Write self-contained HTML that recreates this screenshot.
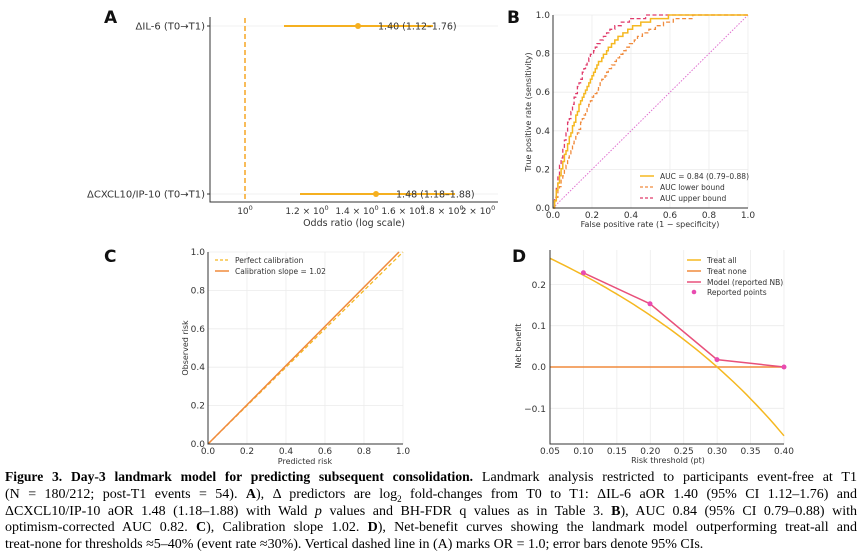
<!DOCTYPE html>
<html><head><meta charset="utf-8"><style>
body{margin:0;background:#fff;width:862px;height:560px;overflow:hidden;position:relative}
svg{position:absolute;left:0;top:0}
.cap{position:absolute;left:5px;top:469px;width:852px;font-family:"Liberation Serif",serif;font-size:14px;line-height:16.8px;color:#000}
.cap div{white-space:nowrap;text-align:justify;text-align-last:justify;overflow:hidden}
.cap div.l{text-align-last:left}
.cap b.tt{font-size:13.6px}
text{font-family:"DejaVu Sans","Liberation Sans",sans-serif;fill:#333}
.t{font-size:9px}
.g{stroke:#ececec;stroke-width:0.8}
.ax{stroke:#333;stroke-width:1;fill:none}
</style></head><body>
<svg width="862" height="560" id="s">
<text x="104" y="23" style="font-size:17px;font-weight:bold;fill:#111">A</text>
<line class="g" x1="210" y1="26" x2="498" y2="26"/>
<line class="g" x1="210" y1="194" x2="498" y2="194"/>
<line x1="245" y1="18" x2="245" y2="202" stroke="#f5a623" stroke-width="1.5" stroke-dasharray="5,3"/>
<line x1="284" y1="26" x2="433" y2="26" stroke="#f5b020" stroke-width="2"/>
<circle cx="358" cy="26" r="3" fill="#f5b020"/>
<text x="378" y="29.5" class="t" style="font-size:9.5px">1.40 (1.12–1.76)</text>
<line x1="300" y1="194" x2="455" y2="194" stroke="#f5b020" stroke-width="2"/>
<circle cx="376" cy="194" r="3" fill="#f5b020"/>
<text x="396" y="197.5" class="t" style="font-size:9.5px">1.48 (1.18–1.88)</text>
<path class="ax" d="M210 17 V202 H498"/>
<line x1="207" y1="26" x2="210" y2="26" stroke="#333"/><line x1="207" y1="194" x2="210" y2="194" stroke="#333"/>
<text x="205" y="29.5" text-anchor="end" style="font-size:10px">ΔIL-6 (T0→T1)</text>
<text x="205" y="197.5" text-anchor="end" style="font-size:10px">ΔCXCL10/IP-10 (T0→T1)</text>
<g class="t" text-anchor="middle">
<text x="245" y="214">10<tspan dy="-4" style="font-size:6.5px">0</tspan></text>
<text x="307" y="214">1.2 × 10<tspan dy="-4" style="font-size:6.5px">0</tspan></text>
<text x="357" y="214">1.4 × 10<tspan dy="-4" style="font-size:6.5px">0</tspan></text>
<text x="403" y="214">1.6 × 10<tspan dy="-4" style="font-size:6.5px">0</tspan></text>
<text x="442" y="214">1.8 × 10<tspan dy="-4" style="font-size:6.5px">0</tspan></text>
<text x="478" y="214">2 × 10<tspan dy="-4" style="font-size:6.5px">0</tspan></text>
</g>
<text x="354" y="226" text-anchor="middle" style="font-size:9.5px">Odds ratio (log scale)</text>

<text x="507" y="23" style="font-size:17px;font-weight:bold;fill:#111">B</text>
<g id="bgrid"></g>
<line x1="553" y1="208" x2="748" y2="15" stroke="#e070d0" stroke-width="1" stroke-dasharray="1.5,1.5"/>
<path id="rocL" fill="none" stroke="#f08a3c" stroke-width="1.3" stroke-dasharray="4,2.5"/>
<path id="rocU" fill="none" stroke="#e03a6a" stroke-width="1.3" stroke-dasharray="4,2.5"/>
<path id="rocM" fill="none" stroke="#f5b820" stroke-width="1.5"/>
<path class="ax" d="M553 15 V208 H748"/>
<g class="t" text-anchor="end" id="byt"></g>
<g class="t" text-anchor="middle" id="bxt"></g>
<text transform="translate(531,112) rotate(-90)" text-anchor="middle" style="font-size:8px">True positive rate (sensitivity)</text>
<text x="650" y="227" text-anchor="middle" style="font-size:8px">False positive rate (1 − specificity)</text>
<line x1="640" y1="176" x2="654" y2="176" stroke="#f5b820" stroke-width="1.5"/>
<text x="660" y="179" style="font-size:7.5px">AUC = 0.84 (0.79–0.88)</text>
<line x1="640" y1="187" x2="654" y2="187" stroke="#f08a3c" stroke-width="1.3" stroke-dasharray="3,2"/>
<text x="660" y="190" style="font-size:7.5px">AUC lower bound</text>
<line x1="640" y1="198" x2="654" y2="198" stroke="#e03a6a" stroke-width="1.3" stroke-dasharray="3,2"/>
<text x="660" y="201" style="font-size:7.5px">AUC upper bound</text>

<text x="104" y="262" style="font-size:17px;font-weight:bold;fill:#111">C</text>
<g id="cgrid"></g>
<line x1="208" y1="444" x2="403" y2="252" stroke="#f5b820" stroke-width="1.3" stroke-dasharray="4,2.5"/>
<line x1="208" y1="444" x2="399" y2="252" stroke="#f08a3c" stroke-width="1.5"/>
<path class="ax" d="M208 252 V444 H403"/>
<g class="t" text-anchor="end" id="cyt"></g>
<g class="t" text-anchor="middle" id="cxt"></g>
<text transform="translate(188,348) rotate(-90)" text-anchor="middle" style="font-size:8px">Observed risk</text>
<text x="305" y="464" text-anchor="middle" style="font-size:8px">Predicted risk</text>
<line x1="215" y1="260" x2="229" y2="260" stroke="#f5b820" stroke-width="1.3" stroke-dasharray="3,2"/>
<text x="235" y="263" style="font-size:7.5px">Perfect calibration</text>
<line x1="215" y1="271" x2="229" y2="271" stroke="#f08a3c" stroke-width="1.5"/>
<text x="235" y="274" style="font-size:7.5px">Calibration slope = 1.02</text>

<text x="512" y="262" style="font-size:17px;font-weight:bold;fill:#111">D</text>
<g id="dgrid"></g>
<line x1="550" y1="367" x2="784" y2="367" stroke="#f08a3c" stroke-width="1.5"/>
<path id="tall" fill="none" stroke="#f5b820" stroke-width="1.5"/>
<polyline points="583.4,272.8 650,303.8 717,359.6 784,367" fill="none" stroke="#e8507a" stroke-width="1.5"/>
<g fill="#e84bb0"><circle cx="583.4" cy="272.8" r="2.5"/><circle cx="650" cy="303.8" r="2.5"/><circle cx="717" cy="359.6" r="2.5"/><circle cx="784" cy="367" r="2.5"/></g>
<path class="ax" d="M550 250 V444 H784"/>
<g class="t" text-anchor="end">
<text x="546" y="288">0.2</text><text x="546" y="329">0.1</text><text x="546" y="370">0.0</text><text x="546" y="412">−0.1</text>
</g>
<g class="t" text-anchor="middle" id="dxt"></g>
<text transform="translate(521,346) rotate(-90)" text-anchor="middle" style="font-size:8px">Net benefit</text>
<text x="668" y="463" text-anchor="middle" style="font-size:8px">Risk threshold (pt)</text>
<line x1="687" y1="260" x2="701" y2="260" stroke="#f5b820" stroke-width="1.5"/><text x="707" y="263" style="font-size:7.5px">Treat all</text>
<line x1="687" y1="271" x2="701" y2="271" stroke="#f08a3c" stroke-width="1.5"/><text x="707" y="274" style="font-size:7.5px">Treat none</text>
<line x1="687" y1="282" x2="701" y2="282" stroke="#e8507a" stroke-width="1.5"/><text x="707" y="285" style="font-size:7.5px">Model (reported NB)</text>
<circle cx="694" cy="292" r="2.3" fill="#e84bb0"/><text x="707" y="295" style="font-size:7.5px">Reported points</text>
</svg>
<div class="cap">
<div><b class="tt">Figure 3. Day-3 landmark model for predicting subsequent consolidation.</b> Landmark analysis restricted to participants event-free at T1</div>
<div>(N = 180/212; post-T1 events = 54). <b>A</b>), Δ predictors are log<sub style="font-size:9px;line-height:0">2</sub> fold-changes from T0 to T1: ΔIL-6 aOR 1.40 (95% CI 1.12–1.76) and</div>
<div>ΔCXCL10/IP-10 aOR 1.48 (1.18–1.88) with Wald <i>p</i> values and BH-FDR q values as in Table 3. <b>B</b>), AUC 0.84 (95% CI 0.79–0.88) with</div>
<div>optimism-corrected AUC 0.82. <b>C</b>), Calibration slope 1.02. <b>D</b>), Net-benefit curves showing the landmark model outperforming treat-all and</div>
<div class="l">treat-none for thresholds ≈5–40% (event rate ≈30%). Vertical dashed line in (A) marks OR = 1.0; error bars denote 95% CIs.</div>
</div>
<script>
var NS="http://www.w3.org/2000/svg";
function el(p,t,a,txt){var e=document.createElementNS(NS,t);for(var k in a)e.setAttribute(k,a[k]);if(txt!==undefined)e.textContent=txt;document.getElementById(p).appendChild(e);}
for(var i=0;i<=5;i++){var v=i/5,x=553+195*v,y=208-193*v;
el("bgrid","line",{x1:x,y1:15,x2:x,y2:208,class:"g"});el("bgrid","line",{x1:553,y1:y,x2:748,y2:y,class:"g"});
el("byt","text",{x:550,y:y+3},v.toFixed(1));el("bxt","text",{x:x,y:218},v.toFixed(1));}
function roc(k,id){var d="";var prev=208;for(var i=0;i<=120;i++){var f=i/120,t=1-Math.pow(1-f,k);t=Math.round(t*54)/54;var x=553+195*f,y=208-193*t;d+=(i?"L"+x.toFixed(1)+" "+prev.toFixed(1)+" ":"M"+x.toFixed(1)+" "+y.toFixed(1)+" ")+"L"+x.toFixed(1)+" "+y.toFixed(1)+" ";prev=y;}document.getElementById(id).setAttribute("d",d);}
roc(5.25,"rocM");roc(3.76,"rocL");roc(7.33,"rocU");
for(var i=0;i<=5;i++){var v=i/5,x=208+195*v,y=444-192*v;
el("cgrid","line",{x1:x,y1:252,x2:x,y2:444,class:"g"});el("cgrid","line",{x1:208,y1:y,x2:403,y2:y,class:"g"});
el("cyt","text",{x:205,y:y+3},v.toFixed(1));el("cxt","text",{x:x,y:454},v.toFixed(1));}
function X(p){return 550+(p-0.05)/0.35*234}function Y(v){return 367-v*413}
for(var i=0;i<8;i++){var p=0.05+i*0.05;el("dgrid","line",{x1:X(p),y1:250,x2:X(p),y2:444,class:"g"});el("dxt","text",{x:X(p),y:454},p.toFixed(2));}
[0.2,0.1,0,-0.1].forEach(function(v){el("dgrid","line",{x1:550,y1:Y(v),x2:784,y2:Y(v),class:"g"});});
var d="";for(var i=0;i<=50;i++){var p=0.05+0.35*i/50,nb=0.3-0.7*p/(1-p);d+=(i?"L":"M")+X(p).toFixed(1)+" "+Y(nb).toFixed(1)+" ";}
document.getElementById("tall").setAttribute("d",d);
</script>
</body></html>
